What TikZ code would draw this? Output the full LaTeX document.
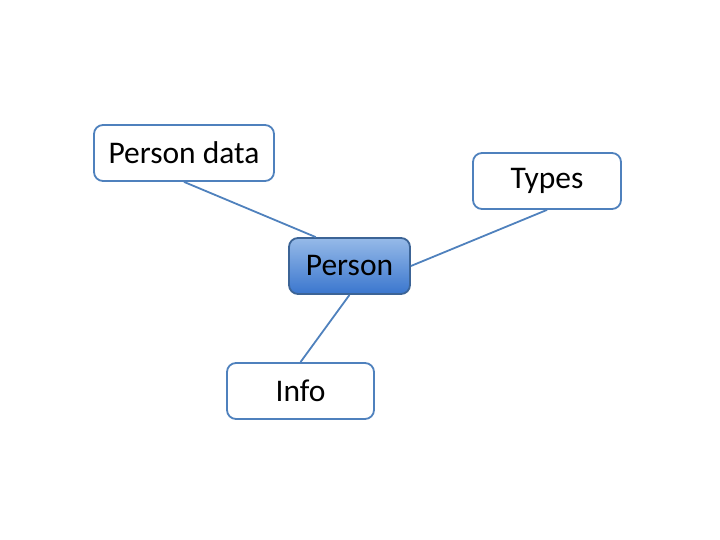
\documentclass[tikz,border=0pt]{standalone}
\usepackage{fontspec}
\setmainfont{Carlito}
\usetikzlibrary{calc}
\definecolor{boxline}{RGB}{79,129,189}
\definecolor{hubline}{RGB}{60,100,150}
\definecolor{hubtop}{RGB}{150,186,232}
\definecolor{hubbot}{RGB}{58,118,206}

\begin{document}
\begin{tikzpicture}[x=1pt,y=-1pt]
\tikzset{
  topic/.style={draw=boxline,line width=1.8pt,fill=white,rounded corners=9pt,
    minimum height=56pt,inner sep=0pt,font=\fontsize{31.5}{36}\selectfont},
  hub/.style={topic,draw=hubline,top color=hubtop,bottom color=hubbot},
  link/.style={draw=boxline,line width=1.8pt}
}
\useasboundingbox (0,0) rectangle (720,540);
\node [hub,minimum width=121pt] (person) at (349.5,266) {Person};
\node [topic,minimum width=180pt] (pdata) at (184,153) {Person data};
\node [topic,minimum width=148pt] (types) at (547,181) {Types};
\node [topic,minimum width=147pt] (info) at (300.5,391) {Info};
\draw [link] (pdata.south) -- ($(person.north)!0.55!(person.north west)$);
\draw [link] (types.south) -- (person.east);
\draw [link] (info.north) -- (person.south);
\end{tikzpicture}
\end{document}
